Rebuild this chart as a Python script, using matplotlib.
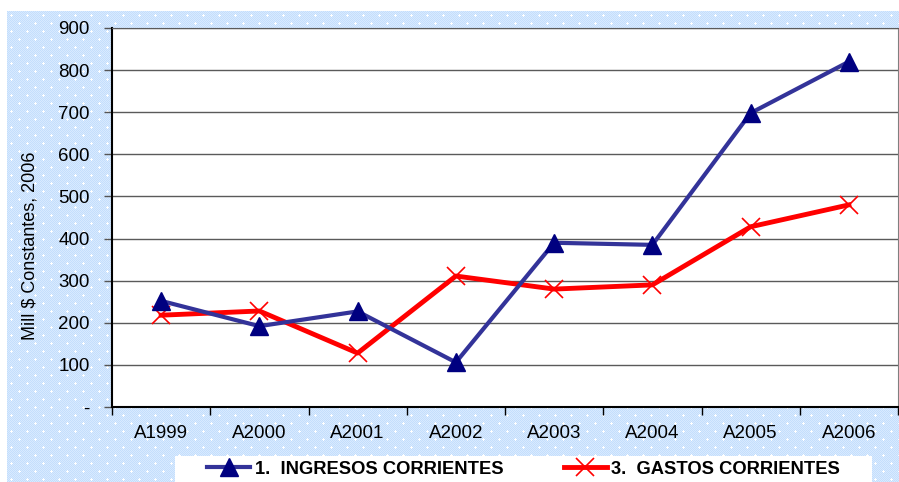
import numpy as np
import matplotlib
matplotlib.use("Agg")
import matplotlib.pyplot as plt
from matplotlib.patches import Rectangle

plt.rcParams['font.family'] = ['Liberation Sans', 'DejaVu Sans']

# data
years = ['A1999', 'A2000', 'A2001', 'A2002', 'A2003', 'A2004', 'A2005', 'A2006']
ingresos = [252, 192, 227, 106, 390, 385, 698, 820]
gastos = [218, 228, 128, 311, 280, 290, 428, 480]
ytick_vals = [0, 100, 200, 300, 400, 500, 600, 700, 800, 900]
ytick_labels = ['-', '100', '200', '300', '400', '500', '600', '700', '800', '900']

W, H = 899, 482
fig = plt.figure(figsize=(W / 100, H / 100), dpi=100)
fig.patch.set_facecolor('white')

# patterned light blue background (decoration only)
bx0, by0 = 7, 11
bw, bh = W - bx0, H - by0
yy, xx = np.mgrid[0:bh, 0:bw]
img = np.empty((bh, bw, 3))
base1 = np.array([0xc4, 0xde, 0xfc]) / 255
base2 = np.array([0xd8, 0xea, 0xff]) / 255
chk = ((xx + yy) % 2 == 0)
img[chk] = base1
img[~chk] = base2
py = (yy % 8)
shift = ((yy // 8) % 2) * 8
pxs = ((xx + shift) % 16)
dot = ((pxs == 4) & (py >= 3) & (py <= 5)) | ((py == 4) & (pxs >= 3) & (pxs <= 5))
img[dot] = 1.0
bg = fig.add_axes([bx0 / W, 0, bw / W, bh / H], zorder=0)
bg.imshow(img, interpolation='nearest', aspect='auto')
bg.axis('off')

# main plot area
ax = fig.add_axes([112 / W, 1 - 407 / H, 786 / W, 379 / H], zorder=2)
ax.set_facecolor('white')
x = np.arange(len(years))
ax.plot(x, ingresos, color='#333399', lw=3, marker='^', ms=13,
        mfc='#000080', mec='#000080', zorder=4, label='1.  INGRESOS CORRIENTES')
ax.plot(x, gastos, color='#ff0000', lw=3.5, marker='x', ms=13,
        mew=1.2, mec='#ff0000', zorder=3, label='3.  GASTOS CORRIENTES')

ax.set_ylim(0, 900)
ax.set_yticks(ytick_vals)
ax.set_yticklabels(ytick_labels, fontsize=13.5)
ax.yaxis.grid(True, color='#5a5a5a', lw=1)
ax.set_axisbelow(True)

ax.set_xlim(-0.5, len(years) - 0.5)
ax.set_xticks(np.arange(-0.5, len(years), 1))
ax.set_xticklabels([])
ax.set_xticks(x, minor=True)
ax.set_xticklabels(years, minor=True, fontsize=13.5)
ax.tick_params(axis='x', which='minor', length=0, pad=13)
ax.tick_params(axis='x', which='major', length=6, width=1, color='black')
ax.tick_params(axis='y', length=6, width=1, color='#555555', pad=10)

ax.spines['left'].set_color('black')
ax.spines['left'].set_linewidth(1.5)
ax.spines['bottom'].set_color('black')
ax.spines['bottom'].set_linewidth(1.5)
ax.spines['top'].set_color('#5a5a5a')
ax.spines['right'].set_color('#808080')

fig.text(30 / W, 1 - 246 / H, 'Mill $ Constantes, 2006', rotation=90,
         fontsize=13, ha='center', va='center')

# legend box (cut off at the bottom like the reference)
fig.patches.append(Rectangle((175 / W, 0), (872 - 175) / W, 1 - 456 / H,
                             transform=fig.transFigure, facecolor='white',
                             edgecolor='none', zorder=1))
leg = fig.legend(loc='center left', bbox_to_anchor=(207 / W, 1 - 469 / H),
                 ncol=2, frameon=False, handlelength=2.35, handletextpad=0.25,
                 columnspacing=3.3, borderpad=0, borderaxespad=0,
                 prop={'weight': 'bold', 'size': 13.2})
leg.set_zorder(3)

fig.savefig('out.png', dpi=100)
